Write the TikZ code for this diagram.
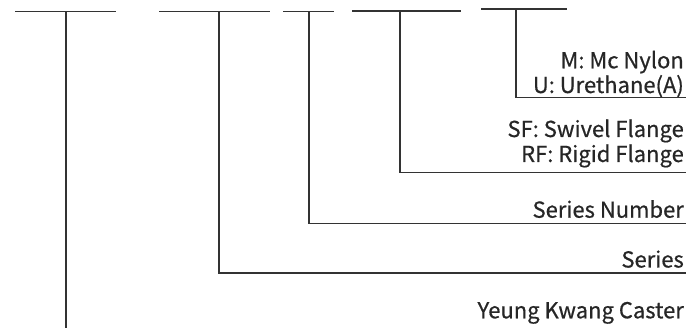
\documentclass[tikz,border=0pt]{standalone}
\usepackage{fontspec}
\setmainfont{Noto Sans CJK KR}[FakeBold=0.6]
\begin{document}
\begin{tikzpicture}[x=1pt,y=-1pt,
  lbl/.style={anchor=base east,inner sep=0pt,font=\fontsize{22}{24}\selectfont,text=black!85},
  ln/.style={draw=black!80,line width=1.4pt},
]
\useasboundingbox (0,0) rectangle (690,328);
% top bars
\coordinate (b1l) at (15,11.3);  \coordinate (b1r) at (116,11.3); \coordinate (b1m) at (66,11.3);
\coordinate (b2l) at (159,11.3); \coordinate (b2r) at (270,11.3); \coordinate (b2m) at (219,11.3);
\coordinate (b3l) at (283,11.3); \coordinate (b3r) at (334,11.3); \coordinate (b3m) at (309,11.3);
\coordinate (b4l) at (352,11);   \coordinate (b4r) at (461,11);   \coordinate (b4m) at (400,11);
\coordinate (b5l) at (481,9);    \coordinate (b5r) at (567,9);    \coordinate (b5m) at (516,9);
% ends
\coordinate (e1) at (66,328);
\coordinate (e2) at (686,273);
\coordinate (e3) at (686,223.3);
\coordinate (e4) at (686,172.3);
\coordinate (e5) at (686,97.5);
% labels
\node[lbl] (m)  at (684,68.3) {M: Mc Nylon};
\node[lbl] (u)  at (684,93)   {U: Urethane(A)};
\node[lbl] (sf) at (684,137)  {SF: Swivel Flange};
\node[lbl] (rf) at (684,162)  {RF: Rigid Flange};
\node[lbl] (sn) at (684,217.7) {Series Number};
\node[lbl] (se) at (684,267.5) {Series};
\node[lbl] (yk) at (684,318.3) {Yeung Kwang Caster};
% bars
\draw[ln] (b1l) -- (b1r);
\draw[ln] (b2l) -- (b2r);
\draw[ln] (b3l) -- (b3r);
\draw[ln] (b4l) -- (b4r);
\draw[ln] (b5l) -- (b5r);
% connectors
\draw[ln] (b1m) -- (e1);
\draw[ln] (b2m) |- (e2);
\draw[ln] (b3m) |- (e3);
\draw[ln] (b4m) |- (e4);
\draw[ln] (b5m) |- (e5);
\end{tikzpicture}
\end{document}
